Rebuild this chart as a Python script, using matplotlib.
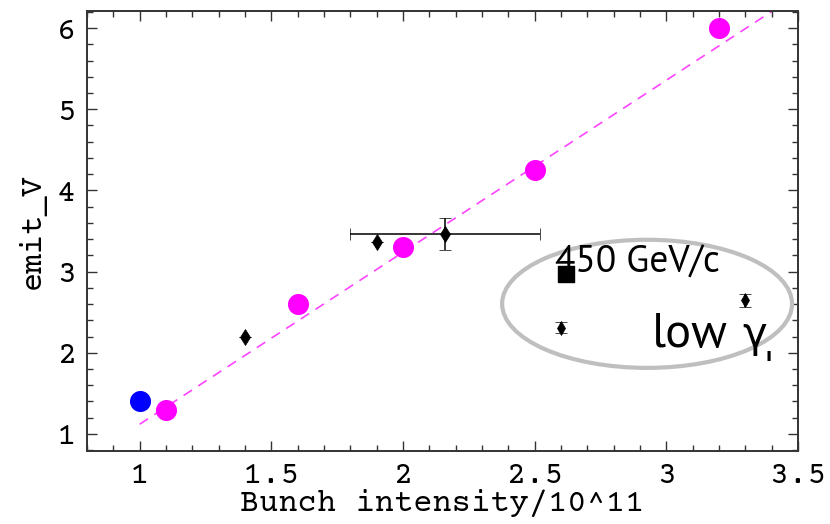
import numpy as np
import matplotlib.pyplot as plt
from matplotlib.patches import Ellipse
from matplotlib.ticker import MultipleLocator

# Data
magenta_x = [1.1, 1.6, 2.0, 2.5, 3.2]
magenta_y = [1.3, 2.6, 3.3, 4.25, 6.0]

blue_x = [1.0]
blue_y = [1.4]

diam_x = [1.4, 1.9, 2.16]
diam_y = [2.2, 3.36, 3.46]
diam_xerr = [0.0, 0.0, 0.36]
diam_yerr = [0.0, 0.0, 0.2]

low_x = [2.6, 3.3]
low_y = [2.31, 2.65]
low_yerr = [0.07, 0.08]

sq_x = [2.62]
sq_y = [2.97]

fit_x = [1.0, 3.45]
fit_y = [1.12, 6.31]

mono = "Courier Prime"
label_font = "PT Sans"

fig = plt.figure(figsize=(8.3, 5.24), dpi=100)
ax = fig.add_axes([0.1048, 0.1393, 0.8566, 0.8397])

# fit line
ax.plot(fit_x, fit_y, color="#ff44ff", linestyle=(0, (6, 4.5)), linewidth=1.2, zorder=2)

# points
ax.scatter(magenta_x, magenta_y, s=230, color="#ff00ff", zorder=4, linewidths=0)
ax.scatter(blue_x, blue_y, s=230, color="#0000ff", zorder=4, linewidths=0)
ax.errorbar(diam_x, diam_y, xerr=diam_xerr, yerr=diam_yerr, fmt="d", color="black",
            markersize=8.5, markeredgewidth=0.5, elinewidth=1.1, capsize=4,
            capthick=1.1, zorder=5)
ax.errorbar(low_x, low_y, yerr=low_yerr, fmt="d", color="black",
            markersize=7.5, markeredgewidth=0.5, elinewidth=1.1, capsize=4,
            capthick=1.1, zorder=5)
ax.scatter(sq_x, sq_y, marker="s", s=130, color="black", zorder=5)

# annotation ellipse + text
ell = Ellipse((2.927, 2.603), width=1.101, height=1.578, fill=False,
              edgecolor="#bfbfbf", linewidth=3.0, zorder=3)
ax.add_patch(ell)
ax.text(2.577, 2.985, "450 GeV/c", fontsize=27, family=label_font,
        va="baseline", ha="left", zorder=6)
ax.text(2.946, 2.07, "low", fontsize=35, family=label_font,
        va="baseline", ha="left", zorder=6)
ax.text(3.29, 2.07, "γ", fontsize=30, family="DejaVu Sans",
        va="baseline", ha="left", zorder=6)
ax.text(3.375, 1.9, "ı", fontsize=13, family="DejaVu Sans", weight="bold",
        va="baseline", ha="left", zorder=6)

ax.set_xticks([1, 1.5, 2, 2.5, 3, 3.5])
ax.set_xticklabels(["1", "1.5", "2", "2.5", "3", "3.5"])
ax.set_yticks([1, 2, 3, 4, 5, 6])
ax.set_yticklabels(["1", "2", "3", "4", "5", "6"])
ax.xaxis.set_minor_locator(MultipleLocator(0.1))
ax.yaxis.set_minor_locator(MultipleLocator(0.2))
ax.set_xlim(0.8, 3.5)
ax.set_ylim(0.79, 6.21)

ax.tick_params(which="both", direction="in", top=True, right=True,
               color="#333333", width=1.0)
ax.tick_params(which="major", length=7, labelsize=23, pad=8)
ax.tick_params(which="minor", length=4)
for lab in ax.get_xticklabels() + ax.get_yticklabels():
    lab.set_family(mono)

for sp in ax.spines.values():
    sp.set_color("#333333")
    sp.set_linewidth(1.4)

ax.set_xlabel("Bunch intensity/10^11", family=mono, fontsize=23, labelpad=0)
ax.set_ylabel("emit_V", family=mono, fontsize=23, labelpad=8)

plt.savefig("out.png", dpi=100)
plt.close()
